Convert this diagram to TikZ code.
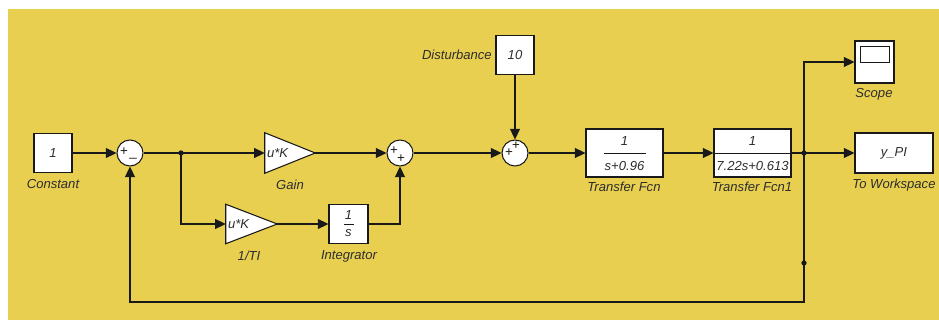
\documentclass[tikz,border=0pt]{standalone}
\usepackage{fontspec}
\setmainfont{Liberation Sans}
\usetikzlibrary{arrows.meta,calc}
\definecolor{simbg}{RGB}{232,207,80}
\definecolor{simln}{RGB}{25,25,25}
\definecolor{simtx}{RGB}{45,45,45}
\begin{document}
\begin{tikzpicture}[x=0.75pt,y=-0.75pt,
 every node/.style={font=\fontsize{9.8}{11}\selectfont\itshape, text=simtx},
 blk/.style={draw=simln, fill=white, line width=0.8pt, inner sep=0pt},
 sumc/.style={circle, draw=simln, fill=white, line width=0.8pt, minimum size=26*0.75pt, inner sep=0pt},
 lbl/.style={inner sep=0pt},
 sgn/.style={font=\fontsize{10}{10}\selectfont, inner sep=0pt, text=simln},
 sig/.style={draw=simln, line width=0.9pt, -{Triangle[length=8pt,width=7.5pt]}},
 wire/.style={draw=simln, line width=0.9pt},
 jdot/.style={circle, fill=simln, inner sep=0pt, minimum size=4pt}]
\useasboundingbox (0,0) rectangle (939,320);
\fill[white] (0,0) rectangle (939,320);
\fill[simbg] (8,9) rectangle (939,320);

% Constant
\node[blk, minimum width=38*0.75pt, minimum height=39*0.75pt] (const) at (53,153) {1};
\node[lbl] (constl) at (53,184) {Constant};

% Sum 1
\node[sumc] (s1) at (130,153) {};
\node[sgn] (s1a) at (124,152) {+};
\node[sgn] (s1b) at (133,158) {\_};

% Gain
\node[minimum width=50*0.75pt, minimum height=40*0.75pt, inner sep=0pt] (gain) at (290,153) {};
\draw[blk] (gain.north west) -- (gain.east) -- (gain.south west) -- cycle;
\node[lbl, anchor=west] (gaint) at ($(gain.west)+(2,0)$) {u*K};
\node[lbl] (gainl) at (290,185) {Gain};

% 1/TI
\node[minimum width=51*0.75pt, minimum height=39*0.75pt, inner sep=0pt] (ti) at (251.5,224) {};
\draw[blk] (ti.north west) -- (ti.east) -- (ti.south west) -- cycle;
\node[lbl, anchor=west] (tit) at ($(ti.west)+(2,0)$) {u*K};
\node[lbl] (til) at (249,256) {1/TI};

% Integrator
\node[blk, minimum width=39*0.75pt, minimum height=39*0.75pt] (integ) at (348.5,224) {};
\node[lbl] (integn) at ($(integ.center)+(0,-9)$) {1};
\node[lbl] (integd) at ($(integ.center)+(0,9)$) {s};
\draw[simln, line width=0.6pt] ($(integ.center)+(-5,0)$) -- ($(integ.center)+(5,0)$);
\node[lbl] (integl) at (349,256) {Integrator};

% Sum 2
\node[sumc] (s2) at (400,153) {};
\node[sgn] (s2a) at (394,151) {+};
\node[sgn] (s2b) at (401,159) {+};

% Disturbance
\node[blk, minimum width=38*0.75pt, minimum height=39*0.75pt] (dist) at (515,55) {10};
\node[lbl, anchor=east] (distl) at (492,55) {Disturbance};

% Sum 3
\node[sumc] (s3) at (515,153) {};
\node[sgn] (s3a) at (516,146) {+};
\node[sgn] (s3b) at (509,153) {+};

% Transfer Fcn
\node[blk, minimum width=77*0.75pt, minimum height=48*0.75pt] (tf1) at (624.5,153) {};
\node[lbl] (tf1n) at ($(tf1.center)+(0,-12)$) {1};
\node[lbl] (tf1d) at ($(tf1.center)+(0,13)$) {s+0.96};
\draw[simln, line width=0.6pt] ($(tf1.center)+(-21,0)$) -- ($(tf1.center)+(21,0)$);
\node[lbl] (tf1l) at (624,187) {Transfer Fcn};

% Transfer Fcn1
\node[blk, minimum width=77*0.75pt, minimum height=48*0.75pt] (tf2) at (752.5,153) {};
\node[lbl] (tf2n) at ($(tf2.center)+(0,-12)$) {1};
\node[lbl] (tf2d) at ($(tf2.center)+(0,13)$) {7.22s+0.613};
\draw[simln, line width=0.6pt] (tf2.west) -- (tf2.east);
\node[lbl] (tf2l) at (752,187) {Transfer Fcn1};

% Scope
\node[blk, minimum width=39*0.75pt, minimum height=42*0.75pt] (scope) at (874.5,62) {};
\draw[simln, line width=0.7pt] ($(scope.center)+(-14.5,-16)$) rectangle ($(scope.center)+(14.5,0)$);
\node[lbl] (scopel) at (874,94) {Scope};

% To Workspace
\node[blk, minimum width=78*0.75pt, minimum height=40*0.75pt] (tw) at (894,153) {y\_PI};
\node[lbl] (twl) at (894,185) {To Workspace};

% junctions
\coordinate (j1) at (181,153);
\coordinate (j2) at (804,153);
\coordinate (j3) at (804,263);
\coordinate (fb) at (804,302);

% connectors
\draw[sig] (const.east) -- (s1.west);
\draw[wire] (s1.east) -- (j1);
\draw[sig] (j1) -- (gain.west);
\draw[sig] (j1) |- (ti.west);
\draw[sig] (gain.east) -- (s2.west);
\draw[sig] (ti.east) -- (integ.west);
\draw[sig] (integ.east) -| (s2.south);
\draw[sig] (s2.east) -- (s3.west);
\draw[sig] (dist.south) -- (s3.north);
\draw[sig] (s3.east) -- (tf1.west);
\draw[sig] (tf1.east) -- (tf2.west);
\draw[wire] (tf2.east) -- (j2);
\draw[sig] (j2) -- (tw.west);
\draw[sig] (j2) |- (scope.west);
\draw[sig] (j2) -- (j3) -- (fb) -| (s1.south);
\node[jdot] (j1d) at (j1) {};
\node[jdot] (j2d) at (j2) {};
\node[jdot] (j3d) at (j3) {};
\end{tikzpicture}
\end{document}
